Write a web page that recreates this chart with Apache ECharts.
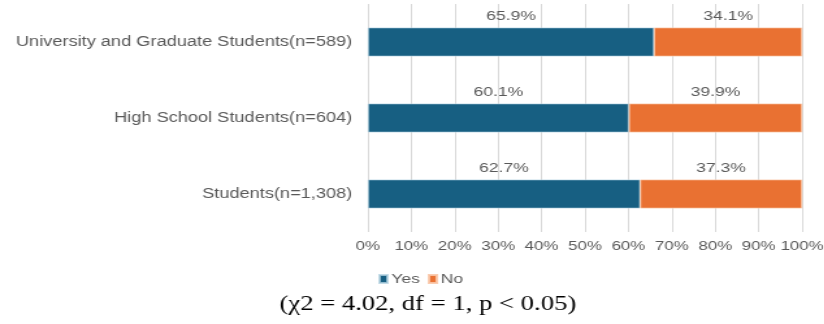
<!DOCTYPE html>
<html><head><meta charset="utf-8">
<script src="https://cdn.jsdelivr.net/npm/echarts@6/dist/echarts.min.js"></script>
<style>html,body{margin:0;padding:0;background:#fff;overflow:hidden;width:824px;height:324px}
#c{width:634px;height:324px;transform:scaleX(1.3);transform-origin:0 0}</style>
</head><body><div id="c"></div>
<script>
const categories = ['Students(n=1,308)', 'High School Students(n=604)', 'University and Graduate Students(n=589)'];
const yesValues = [62.7, 60.1, 65.9];
const noValues = [37.3, 39.9, 34.1];
const seriesNames = ['Yes', 'No'];
const noteText = '(\u03c72 = 4.02, df = 1, p < 0.05)';

const FONT = 'Liberation Sans, Arial, sans-serif';
const chart = echarts.init(document.getElementById('c'), null, {renderer: 'canvas'});
const labelStyle = {
  show: true, position: 'top', distance: 4,
  color: '#595959', fontSize: 13.5, fontFamily: FONT,
  formatter: p => p.value.toFixed(1) + '%'
};
chart.setOption({
  animation: false,
  grid: {left: 283, right: 17, top: 4, bottom: 92, containLabel: false, outerBoundsMode: 'none'},
  xAxis: {
    type: 'value', min: 0, max: 100, interval: 10,
    axisLabel: {formatter: '{value}%', color: '#595959', fontSize: 13, margin: 8, fontFamily: FONT},
    splitLine: {show: true, lineStyle: {color: '#d9d9d9', width: 1}},
    axisLine: {show: false}, axisTick: {show: false}
  },
  yAxis: {
    type: 'category', data: categories,
    axisLabel: {color: '#595959', fontSize: 14, margin: 12, fontFamily: FONT},
    axisLine: {show: false}, axisTick: {show: false}
  },
  legend: {
    data: seriesNames, left: 286, top: 267, itemWidth: 6, itemHeight: 8, itemGap: 6,
    icon: 'rect',
    textStyle: {color: '#595959', fontSize: 13.5, fontFamily: FONT, padding: [0, 0, 0, -2]}
  },
  graphic: [{
    type: 'text', left: 215, top: 294,
    style: {text: noteText, font: '20.5px "Liberation Serif", "Times New Roman", serif', fill: '#000'}
  }],
  series: [
    {name: 'Yes', type: 'bar', stack: 'a', data: yesValues, barWidth: 29,
     itemStyle: {color: '#175f82', borderColor: 'rgba(180,210,225,0.8)', borderWidth: 0.8},
     label: labelStyle},
    {name: 'No', type: 'bar', stack: 'a', data: noValues, barWidth: 29,
     itemStyle: {color: '#e97132', borderColor: 'rgba(250,200,170,0.9)', borderWidth: 0.8},
     label: labelStyle}
  ]
});
</script></body></html>
